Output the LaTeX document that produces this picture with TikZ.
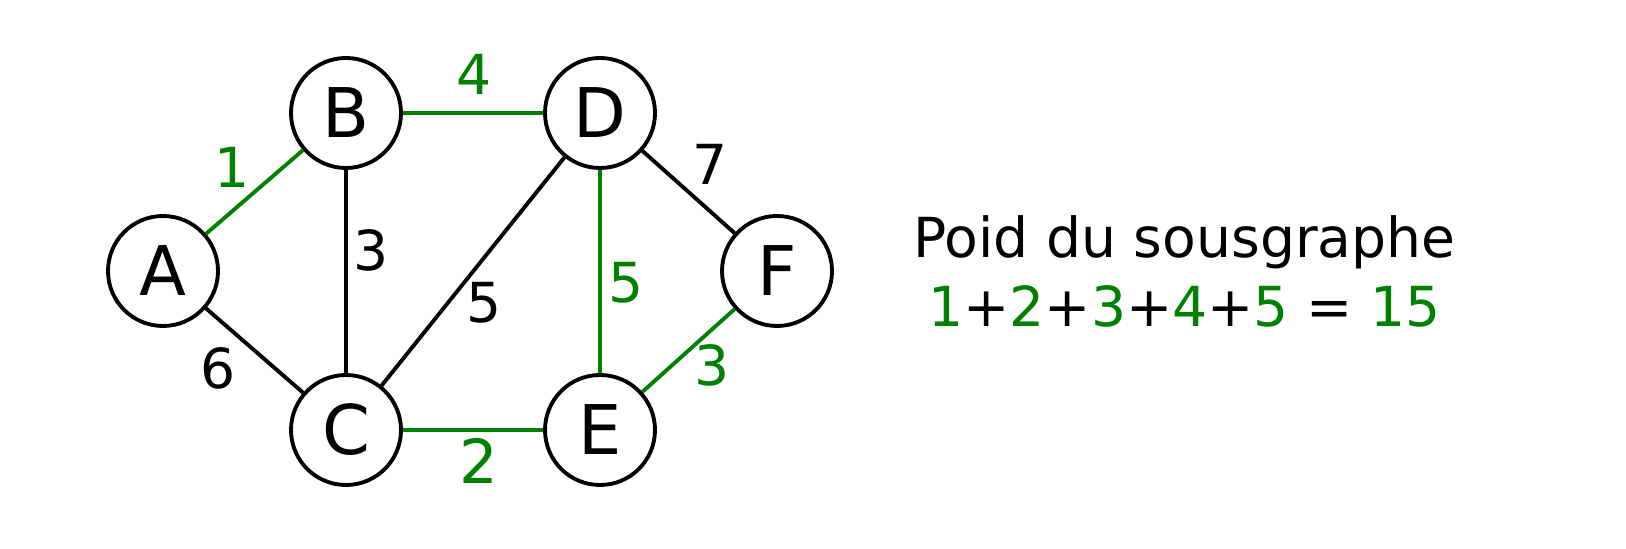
\documentclass[tikz,border=0pt]{standalone}
\usepackage{fontspec}
\setmainfont{DejaVu Sans}
\usepackage{tikz}
\definecolor{treegreen}{RGB}{0,128,0}

\begin{document}
\begin{tikzpicture}[vertex/.style={circle, draw, line width=1.1pt, minimum size=1.1cm, inner sep=0pt, font=\fontsize{19.5}{20}\selectfont},
		edge/.style={line width=1.1pt},
		weight/.style={inner sep=0pt, font=\fontsize{15.7}{16}\selectfont}]
		\useasboundingbox (0,0) rectangle (16.26,5.49);

		% draw nodes
		\foreach \name/\x/\y in {A/1.63/2.78, B/3.46/4.36, C/3.46/1.19, D/6.00/4.36, E/6.00/1.19, F/7.77/2.78}
			\node[vertex] (\name) at (\x,\y) {\name};

		% draw edges
		\draw[edge, treegreen] (A) -- (B);
		\draw[edge] (A) -- (C);
		\draw[edge] (B) -- (C);
		\draw[edge, treegreen] (B) -- (D);
		\draw[edge] (C) -- (D);
		\draw[edge, treegreen] (C) -- (E);
		\draw[edge, treegreen] (D) -- (E);
		\draw[edge] (D) -- (F);
		\draw[edge, treegreen] (E) -- (F);

		% draw weights
		\node[weight, treegreen] (wab) at (2.32,3.82) {1};
		\node[weight] (wac) at (2.176,1.81) {6};
		\node[weight] (wbc) at (3.715,2.99) {3};
		\node[weight, treegreen] (wbd) at (4.74,4.75) {4};
		\node[weight] (wcd) at (4.845,2.46) {5};
		\node[weight, treegreen, font=\fontsize{17.3}{18}\selectfont] (wce) at (4.785,0.88) {2};
		\node[weight, treegreen] (wde) at (6.26,2.66) {5};
		\node[weight] (wdf) at (7.10,3.85) {7};
		\node[weight, treegreen] (wef) at (7.12,1.84) {3};

		% draw total
		\node[weight, anchor=base] (title) at (11.845,2.91) {Poid du sousgraphe};
		\node[weight, anchor=base] (total) at (11.845,2.22) {\textcolor{treegreen}{1}+\textcolor{treegreen}{2}+\textcolor{treegreen}{3}+\textcolor{treegreen}{4}+\textcolor{treegreen}{5} = \textcolor{treegreen}{15}};
	\end{tikzpicture}
\end{document}
